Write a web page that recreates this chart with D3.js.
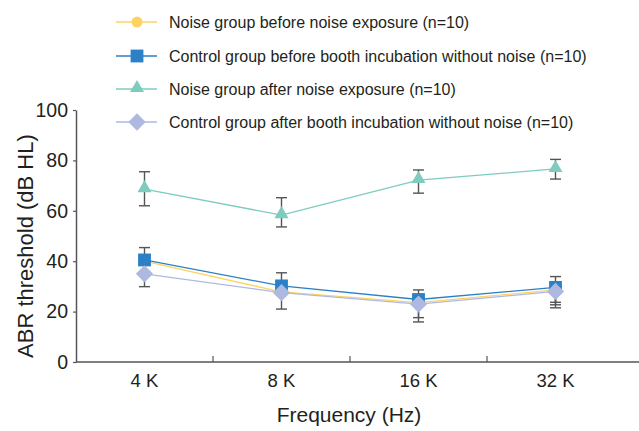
<!DOCTYPE html>
<html>
<head>
<meta charset="utf-8">
<script src="https://cdn.jsdelivr.net/npm/d3@7"></script>
<style>
  body { margin: 0; background: #fff; }
  svg { display: block; font-family: "Liberation Sans", Arial, sans-serif; }
</style>
</head>
<body>
<svg id="chart" width="639" height="431"></svg>
<script>
const freqs = ["4 K", "8 K", "16 K", "32 K"];
const yTicks = [0, 20, 40, 60, 80, 100];

// means and error bar lengths (up / down)
const noiseBefore = [40, 27.8, 23.6, 28.6];
const noiseBeforeUp = [0, 0, 0, 0];
const noiseBeforeDown = [0, 0, 6.0, 5.9];

const controlBefore = [40.5, 30.2, 24.8, 29.6];
const controlBeforeUp = [4.9, 5.2, 3.8, 4.3];
const controlBeforeDown = [0, 0, 0, 5.9];

const noiseAfter = [68.6, 58.3, 72.2, 76.6];
const noiseAfterUp = [6.9, 6.9, 4.0, 3.8];
const noiseAfterDown = [6.6, 4.7, 5.2, 4.0];

const controlAfter = [35, 27.5, 23, 28];
const controlAfterUp = [0, 0, 0, 0];
const controlAfterDown = [5.1, 6.5, 7.1, 6.5];

const series = [
  { name: "Noise group before noise exposure (n=10)", values: noiseBefore, up: noiseBeforeUp, down: noiseBeforeDown, color: "#fdd463", shape: "circle" },
  { name: "Control group before booth incubation without noise (n=10)", values: controlBefore, up: controlBeforeUp, down: controlBeforeDown, color: "#2b80c6", shape: "square" },
  { name: "Noise group after noise exposure (n=10)", values: noiseAfter, up: noiseAfterUp, down: noiseAfterDown, color: "#7ecbbf", shape: "triangle" },
  { name: "Control group after booth incubation without noise (n=10)", values: controlAfter, up: controlAfterUp, down: controlAfterDown, color: "#adb9e1", shape: "diamond" }
];

const svg = d3.select("#chart");
const axisColor = "#555";
const errColor = "#555";
const textColor = "#231f20";

const x = d3.scaleBand().domain(freqs).range([76, 624]).padding(0);
const y = d3.scaleLinear().domain([0, 100]).range([362, 110]);
const cx = (i) => x(freqs[i]) + x.bandwidth() / 2;

const symbols = {
  circle: d3.symbol(d3.symbolCircle, 95),
  square: d3.symbol(d3.symbolSquare, 165),
  triangle: d3.symbol(d3.symbolTriangle, 85),
  diamond: d3.symbol(d3.symbolSquare, 150)
};

function drawMarker(g, shape, color, px, py) {
  const p = g.append("path")
    .attr("d", symbols[shape]())
    .attr("fill", color);
  if (shape === "diamond") p.attr("transform", `translate(${px},${py}) rotate(45)`);
  else if (shape === "triangle") p.attr("transform", `translate(${px},${py - 1})`);
  else p.attr("transform", `translate(${px},${py})`);
}

// y axis
const yAxis = svg.append("g")
  .attr("transform", "translate(76,0)")
  .call(d3.axisLeft(y).tickValues(yTicks).tickSize(3).tickSizeOuter(0).tickPadding(5));
yAxis.select(".domain").attr("stroke", axisColor).attr("stroke-width", 1.5);
yAxis.selectAll(".tick line").attr("stroke", axisColor).attr("stroke-width", 1.2);
yAxis.selectAll("text").attr("font-size", 19.5).attr("fill", textColor)
  .attr("font-family", "Liberation Sans, Arial, sans-serif");

// x axis
const xAxis = svg.append("g")
  .attr("transform", "translate(0,362)")
  .call(d3.axisBottom(x).tickSize(0).tickPadding(12));
xAxis.select(".domain").remove();
xAxis.selectAll("text").attr("font-size", 18.5).attr("fill", textColor)
  .attr("font-family", "Liberation Sans, Arial, sans-serif");
svg.append("line")
  .attr("x1", 76).attr("x2", 639).attr("y1", 362).attr("y2", 362)
  .attr("stroke", axisColor).attr("stroke-width", 1.5);
svg.append("g").selectAll("line")
  .data(freqs.slice(1))
  .join("line")
  .attr("x1", (d) => x(d)).attr("x2", (d) => x(d))
  .attr("y1", 362).attr("y2", 356)
  .attr("stroke", axisColor).attr("stroke-width", 1.2);

// axis titles
svg.append("text")
  .attr("transform", `translate(25,${y(46)}) rotate(-90)`)
  .attr("text-anchor", "middle")
  .attr("dy", "0.35em")
  .attr("font-size", 22)
  .attr("fill", textColor)
  .text("ABR threshold (dB HL)");

svg.append("text")
  .attr("x", 349)
  .attr("y", 422)
  .attr("text-anchor", "middle")
  .attr("font-size", 21)
  .attr("fill", textColor)
  .text("Frequency (Hz)");

// lines
const line = d3.line().x((d, i) => cx(i)).y((d) => y(d));
svg.append("g").selectAll("path")
  .data(series)
  .join("path")
  .attr("d", (s) => line(s.values))
  .attr("fill", "none")
  .attr("stroke", (s) => s.color)
  .attr("stroke-width", 1.3);

// error bars
const errG = svg.append("g").attr("stroke", errColor).attr("stroke-width", 1.4);
series.forEach((s) => {
  s.values.forEach((v, i) => {
    const px = cx(i);
    [[s.up[i], 1], [s.down[i], -1]].forEach(([e, dir]) => {
      if (!e) return;
      const end = y(v + dir * e);
      errG.append("line").attr("x1", px).attr("x2", px).attr("y1", y(v)).attr("y2", end);
      errG.append("line").attr("x1", px - 5.5).attr("x2", px + 5.5).attr("y1", end).attr("y2", end);
    });
  });
});

// markers
const markG = svg.append("g");
series.forEach((s) => {
  s.values.forEach((v, i) => drawMarker(markG, s.shape, s.color, cx(i), y(v)));
});

// legend
const legendRows = [22, 56, 89, 122];
const legend = svg.append("g");
series.forEach((s, i) => {
  const ly = legendRows[i];
  legend.append("line")
    .attr("x1", 116).attr("x2", 157).attr("y1", ly).attr("y2", ly)
    .attr("stroke", s.color).attr("stroke-width", 1.3);
  drawMarker(legend, s.shape, s.color, 137, ly);
  legend.append("text")
    .attr("x", 169).attr("y", ly)
    .attr("dy", "0.35em")
    .attr("font-size", 16)
    .attr("fill", textColor)
    .text(s.name);
});
</script>
</body>
</html>
